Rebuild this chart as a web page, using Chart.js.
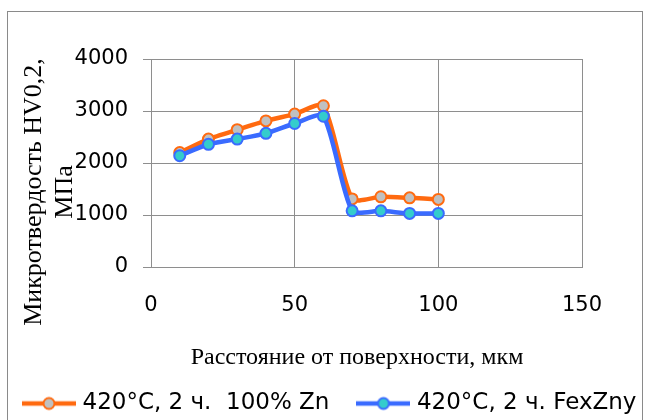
<!DOCTYPE html>
<html>
<head>
<meta charset="utf-8">
<script src="https://cdn.jsdelivr.net/npm/chart.js@4"></script>
<style>
  html, body { margin: 0; padding: 0; background: #fff; overflow: hidden; }
  #wrap { width: 649px; height: 420px; overflow: hidden; position: relative; }
</style>
</head>
<body>
<div id="wrap"><canvas id="chart" width="700" height="425"></canvas></div>
<script>
// distance from surface, um
var distances = [10, 20, 30, 40, 50, 60, 70, 80, 90, 100];
// microhardness HV0.2, MPa
var zn100 = [2200, 2460, 2640, 2810, 2940, 3100, 1310, 1350, 1330, 1300];
var fexzny = [2140, 2360, 2460, 2570, 2760, 2900, 1080, 1080, 1030, 1030];
var seriesNames = ['420°C, 2 ч.  100% Zn', '420°C, 2 ч. FexZny'];
var xTicks = [0, 50, 100, 150];
var yTicks = [0, 1000, 2000, 3000, 4000];
var yTitle = ['Микротвердость HV0,2,', 'МПа'];
var xTitle = 'Расстояние от поверхности, мкм';

var gridColor = '#8e8e8e';
var tickFont = { family: 'DejaVu Sans', size: 21 };

function toPoints(ys) {
  return distances.map(function(d, i) { return { x: d, y: ys[i] }; });
}

// legend marker: line with a circle on it
function legendMarker(lineColor, fill) {
  var c = document.createElement('canvas');
  c.width = 54; c.height = 16;
  var g = c.getContext('2d');
  g.strokeStyle = lineColor;
  g.lineWidth = 4.5;
  g.beginPath(); g.moveTo(0, 8); g.lineTo(54, 8); g.stroke();
  g.beginPath(); g.arc(27, 8, 5.5, 0, Math.PI * 2);
  g.fillStyle = fill; g.fill();
  g.lineWidth = 2; g.stroke();
  return c;
}
var markers = [legendMarker('#ff6a10', '#c0c0c0'), legendMarker('#3a6bff', '#34cccc')];

var frameAndTitles = {
  id: 'frameAndTitles',
  beforeDraw: function(chart) {
    var ctx = chart.ctx;
    ctx.save();
    ctx.fillStyle = '#fff';
    ctx.fillRect(0, 0, chart.width, chart.height);
    ctx.strokeStyle = '#8a8a8a';
    ctx.lineWidth = 1;
    ctx.strokeRect(7.5, 11.5, 635, 450);
    ctx.restore();
  },
  afterDraw: function(chart) {
    var ctx = chart.ctx;
    ctx.save();
    ctx.fillStyle = '#000';
    ctx.textAlign = 'center';
    ctx.textBaseline = 'alphabetic';
    ctx.font = '24px "Liberation Serif"';
    ctx.fillText(xTitle, 357, 364);
    ctx.translate(0, 192);
    ctx.rotate(-Math.PI / 2);
    ctx.font = '26px "Liberation Serif"';
    ctx.fillText(yTitle[0], 0, 41);
    ctx.fillText(yTitle[1], 0, 72);
    ctx.restore();
  }
};

var ctx = document.getElementById('chart');
var myChart = new Chart(ctx, {
  type: 'line',
  data: {
    datasets: [
      {
        label: seriesNames[0],
        data: toPoints(zn100),
        borderColor: '#ff6a10',
        backgroundColor: '#c0c0c0',
        pointBackgroundColor: '#c0c0c0',
        pointBorderColor: '#ff6a10',
        borderWidth: 4.5,
        pointRadius: 5.5,
        pointBorderWidth: 2,
        tension: 0.22,
        fill: false,
        order: 1
      },
      {
        label: seriesNames[1],
        data: toPoints(fexzny),
        borderColor: '#3a6bff',
        backgroundColor: '#34cccc',
        pointBackgroundColor: '#34cccc',
        pointBorderColor: '#3a6bff',
        borderWidth: 4.5,
        pointRadius: 5.5,
        pointBorderWidth: 2,
        tension: 0.22,
        fill: false,
        order: 0
      }
    ]
  },
  options: {
    responsive: false,
    animation: false,
    layout: { padding: { left: -5, right: 0, top: 59, bottom: 0 } },
    plugins: {
      tooltip: { enabled: false },
      legend: {
        position: 'bottom',
        align: 'start',
        labels: {
          usePointStyle: true,
          pointStyleWidth: 44,
          padding: 32,
          color: '#000',
          font: { family: 'DejaVu Sans', size: 23 },
          sort: function(a, b) { return a.datasetIndex - b.datasetIndex; },
          generateLabels: function(chart) {
            var items = Chart.defaults.plugins.legend.labels.generateLabels(chart);
            items.forEach(function(it) { it.pointStyle = markers[it.datasetIndex]; });
            return items;
          }
        }
      }
    },
    scales: {
      x: {
        type: 'linear',
        min: 0,
        max: 150,
        afterBuildTicks: function(s) { s.ticks = xTicks.map(function(v) { return { value: v }; }); },
        afterFit: function(s) { s.height = 93; },
        grid: { color: gridColor, drawTicks: false },
        border: { color: gridColor },
        ticks: { color: '#000', font: tickFont, padding: 26, maxRotation: 0,
                 callback: function(v) { return String(v); } }
      },
      y: {
        min: 0,
        max: 4000,
        afterBuildTicks: function(s) { s.ticks = yTicks.map(function(v) { return { value: v }; }); },
        afterFit: function(s) { s.width = 156; },
        grid: { color: gridColor, tickLength: 8 },
        border: { color: gridColor },
        ticks: { color: '#000', font: tickFont, padding: 15,
                 callback: function(v) { return String(v); } }
      },
      y2: {
        position: 'right',
        display: true,
        grid: { display: false },
        border: { display: false },
        ticks: { display: false },
        afterFit: function(s) { s.width = 118; }
      }
    }
  },
  plugins: [frameAndTitles]
});
</script>
</body>
</html>
